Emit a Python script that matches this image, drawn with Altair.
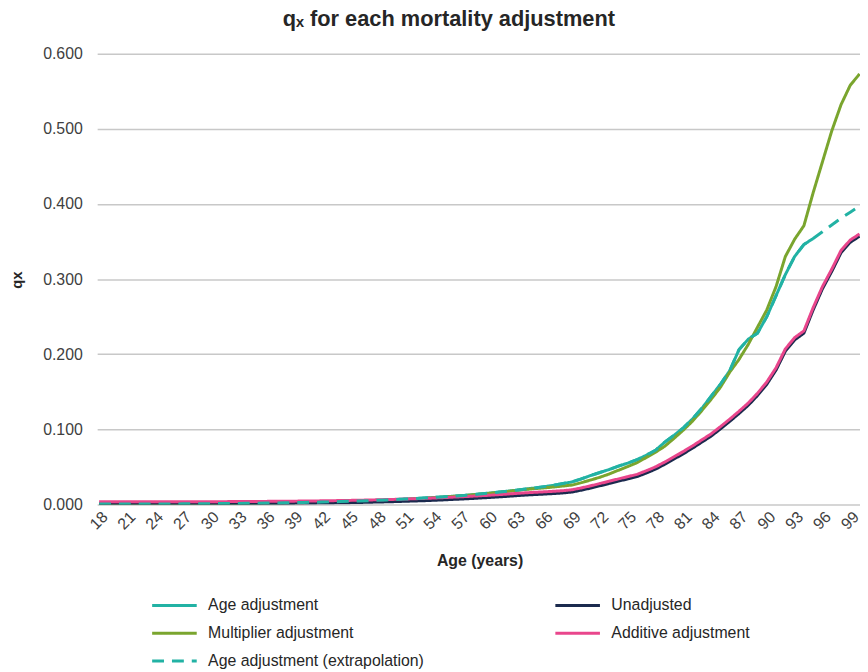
import altair as alt
import pandas as pd

FONT = "Liberation Sans, Arial, sans-serif"

ages = list(range(18, 101))

unadjusted = [
    0.0005, 0.0005, 0.0005, 0.0005, 0.0005, 0.0005, 0.0005, 0.0005, 0.0005,
    0.0006, 0.0006, 0.0006, 0.0007, 0.0007, 0.0008, 0.0008, 0.0009, 0.0010,
    0.0011, 0.0012, 0.0013, 0.0014, 0.0015, 0.0017, 0.0018, 0.0020, 0.0022,
    0.0024, 0.0026, 0.0029, 0.0032, 0.0035, 0.0038, 0.0042, 0.0046, 0.0050,
    0.0055, 0.0060, 0.0066, 0.0072, 0.0078, 0.0085, 0.0092, 0.0100, 0.0108,
    0.0117, 0.0125, 0.0132, 0.0138, 0.0145, 0.0153, 0.0166, 0.0190, 0.0218,
    0.0248, 0.0280, 0.0310, 0.0340, 0.0370, 0.0418, 0.0470, 0.0535, 0.0605,
    0.0675, 0.0750, 0.0830, 0.0910, 0.1005, 0.1105, 0.1210, 0.1320, 0.1450,
    0.1600, 0.1790, 0.2040, 0.2190, 0.2280, 0.2590, 0.2870, 0.3100, 0.3350,
    0.3490, 0.3570,
]

additive = [
    0.0035, 0.0035, 0.0035, 0.0035, 0.0035, 0.0035, 0.0035, 0.0035, 0.0035,
    0.0036, 0.0036, 0.0036, 0.0037, 0.0037, 0.0038, 0.0038, 0.0039, 0.0040,
    0.0041, 0.0042, 0.0043, 0.0044, 0.0045, 0.0047, 0.0048, 0.0050, 0.0052,
    0.0054, 0.0056, 0.0059, 0.0062, 0.0065, 0.0068, 0.0072, 0.0076, 0.0080,
    0.0085, 0.0090, 0.0096, 0.0102, 0.0108, 0.0115, 0.0122, 0.0130, 0.0138,
    0.0147, 0.0155, 0.0162, 0.0168, 0.0175, 0.0183, 0.0196, 0.0220, 0.0248,
    0.0278, 0.0310, 0.0340, 0.0370, 0.0400, 0.0448, 0.0500, 0.0565, 0.0635,
    0.0705, 0.0780, 0.0860, 0.0940, 0.1035, 0.1135, 0.1240, 0.1350, 0.1480,
    0.1630, 0.1820, 0.2070, 0.2220, 0.2310, 0.2620, 0.2900, 0.3130, 0.3380,
    0.3520, 0.3600,
]

multiplier = [
    0.0008, 0.0008, 0.0008, 0.0008, 0.0008, 0.0008, 0.0008, 0.0008, 0.0008,
    0.0010, 0.0010, 0.0010, 0.0011, 0.0011, 0.0013, 0.0013, 0.0014, 0.0016,
    0.0018, 0.0019, 0.0021, 0.0022, 0.0024, 0.0027, 0.0029, 0.0032, 0.0035,
    0.0038, 0.0042, 0.0046, 0.0051, 0.0056, 0.0061, 0.0067, 0.0074, 0.0080,
    0.0088, 0.0096, 0.0106, 0.0115, 0.0125, 0.0136, 0.0147, 0.0160, 0.0173,
    0.0187, 0.0200, 0.0211, 0.0221, 0.0232, 0.0245, 0.0258, 0.0290, 0.0325,
    0.0362, 0.0405, 0.0455, 0.0505, 0.0555, 0.0625, 0.0695, 0.0775, 0.0880,
    0.0990, 0.1110, 0.1250, 0.1400, 0.1560, 0.1760, 0.1930, 0.2130, 0.2360,
    0.2590, 0.2900, 0.3300, 0.3530, 0.3710, 0.4150, 0.4560, 0.4970, 0.5320,
    0.5580, 0.5730,
]

age_adj_ages = list(range(18, 96))
age_adjustment = [
    0.0005, 0.0005, 0.0005, 0.0005, 0.0006, 0.0006, 0.0006, 0.0007, 0.0007,
    0.0008, 0.0009, 0.0010, 0.0011, 0.0012, 0.0013, 0.0014, 0.0015, 0.0017,
    0.0018, 0.0020, 0.0022, 0.0024, 0.0026, 0.0029, 0.0032, 0.0035, 0.0038,
    0.0042, 0.0046, 0.0050, 0.0055, 0.0060, 0.0066, 0.0072, 0.0078, 0.0085,
    0.0092, 0.0100, 0.0108, 0.0117, 0.0127, 0.0138, 0.0150, 0.0163, 0.0176,
    0.0190, 0.0205, 0.0220, 0.0237, 0.0255, 0.0278, 0.0300, 0.0340, 0.0385,
    0.0425, 0.0465, 0.0510, 0.0550, 0.0595, 0.0655, 0.0720, 0.0830, 0.0920,
    0.1020, 0.1140, 0.1280, 0.1440, 0.1600, 0.1780, 0.2060, 0.2200, 0.2280,
    0.2500, 0.2780, 0.3060, 0.3300, 0.3460, 0.3540,
]

extrap_ages = list(range(95, 101))
extrap_tail = [0.3540, 0.3630, 0.3720, 0.3810, 0.3890, 0.3970]

names = [
    "Age adjustment",
    "Unadjusted",
    "Multiplier adjustment",
    "Additive adjustment",
    "Age adjustment (extrapolation)",
]
colors = ["#22B2A4", "#1B2A4E", "#7AA52E", "#E9468C", "#22B2A4"]
dashes = [[1, 0], [1, 0], [1, 0], [1, 0], [12, 8]]
draw_order = [
    "Age adjustment",
    "Multiplier adjustment",
    "Unadjusted",
    "Additive adjustment",
    "Age adjustment (extrapolation)",
]

rows = []
for a, v in zip(ages, unadjusted):
    rows.append({"age": a, "qx": v, "series": "Unadjusted"})
for a, v in zip(ages, additive):
    rows.append({"age": a, "qx": v, "series": "Additive adjustment"})
for a, v in zip(ages, multiplier):
    rows.append({"age": a, "qx": v, "series": "Multiplier adjustment"})
for a, v in zip(age_adj_ages, age_adjustment):
    rows.append({"age": a, "qx": v, "series": "Age adjustment"})
for a, v in zip(age_adj_ages[:-1], age_adjustment[:-1]):
    rows.append({"age": a, "qx": v, "series": "Age adjustment (extrapolation)"})
for a, v in zip(extrap_ages, extrap_tail):
    rows.append({"age": a, "qx": v, "series": "Age adjustment (extrapolation)"})
df = pd.DataFrame(rows)

legend = alt.Legend(
    title=None,
    orient="none",
    legendX=54,
    legendY=547,
    direction="horizontal",
    columns=2,
    symbolType="stroke",
    symbolSize=2025,
    symbolStrokeWidth=3,
    labelFont=FONT,
    labelFontSize=16,
    labelColor="#262626",
    labelOffset=10,
    labelLimit=400,
    clipHeight=20,
    rowPadding=8,
    columnPadding=131,
    padding=0,
)

base = alt.Chart(df).mark_line(strokeWidth=3, clip=True).encode(
    x=alt.X(
        "age:Q",
        scale=alt.Scale(domain=[17.79, 100.05], nice=False, zero=False),
        axis=alt.Axis(
            values=list(range(18, 100, 3)),
            labelAngle=-45,
            labelAlign="right",
            labelBaseline="top",
            labelPadding=4,
            labelFlush=False,
            labelOverlap=False,
            labelFont=FONT,
            labelFontSize=16,
            labelColor="#404040",
            grid=False,
            domain=False,
            ticks=False,
            title="Age (years)",
            titleFont=FONT,
            titleFontSize=16,
            titleFontWeight="bold",
            titleColor="#262626",
            titleX=386,
            titleY=62,
            titleAlign="center",
            titleBaseline="alphabetic",
        ),
    ),
    y=alt.Y(
        "qx:Q",
        scale=alt.Scale(domain=[0, 0.6], nice=False, zero=True),
        axis=alt.Axis(
            values=[0.0, 0.1, 0.2, 0.3, 0.4, 0.5, 0.6],
            format=".3f",
            grid=True,
            gridColor="#C8C8C8",
            gridWidth=1.5,
            domain=False,
            ticks=False,
            labelFont=FONT,
            labelFontSize=16,
            labelColor="#404040",
            labelPadding=15,
            title="qx",
            titleFont=FONT,
            titleFontSize=15,
            titleFontWeight="bold",
            titleColor="#262626",
            titleAngle=270,
            titleX=-81,
            titleY=228,
            titleAlign="center",
            titleBaseline="middle",
        ),
    ),
    color=alt.Color("series:N", scale=alt.Scale(domain=names, range=colors), legend=legend),
    strokeDash=alt.StrokeDash("series:N", scale=alt.Scale(domain=names, range=dashes), legend=legend),
)

layers = [base.transform_filter(alt.datum.series == s) for s in draw_order]

chart = alt.layer(*layers).properties(
    width=770,
    height=455,
    autosize=alt.AutoSizeParams(type="none"),
    padding={"left": 90, "top": 43, "right": 0, "bottom": 165},
    title=alt.Title(
        "qₓ for each mortality adjustment",
        font=FONT,
        fontSize=22,
        fontWeight="bold",
        color="#262626",
        anchor="middle",
        dx=-30,
        dy=19,
        offset=17,
        baseline="alphabetic",
    ),
).configure_view(stroke=None)

chart.save("out.html", embed_options={"renderer": "svg", "actions": False})
